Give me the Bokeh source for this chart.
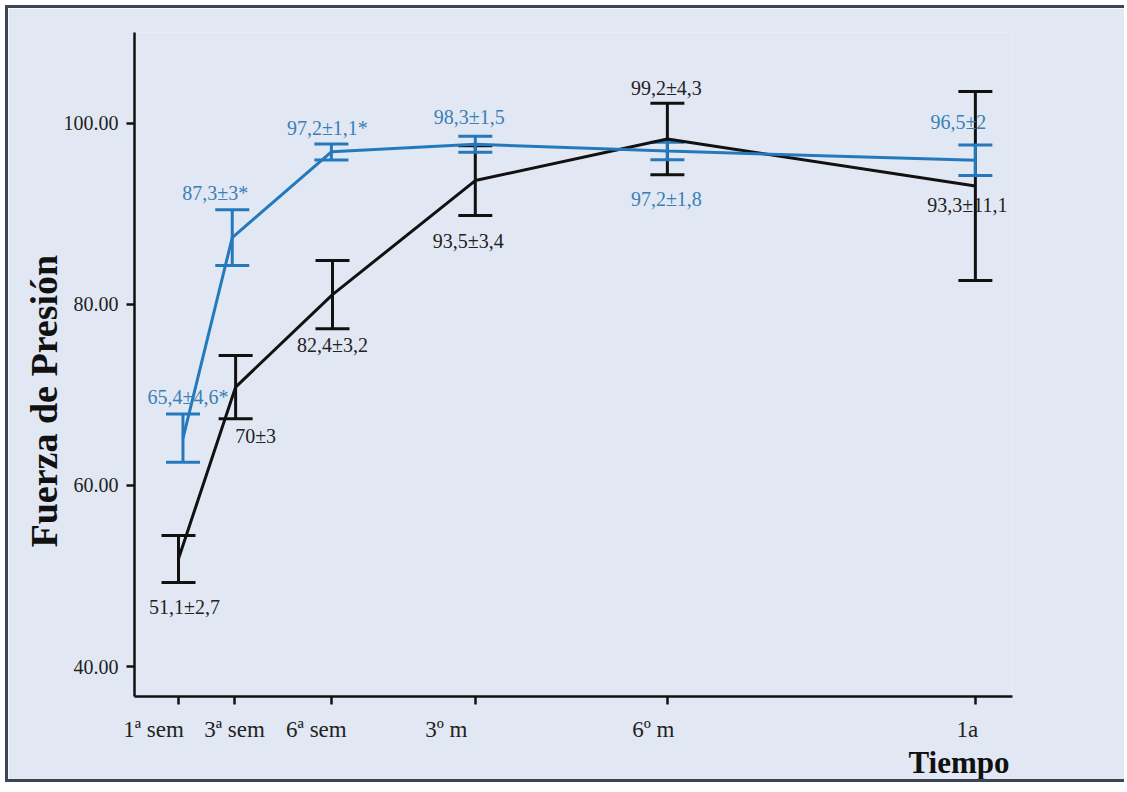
from bokeh.plotting import figure
from bokeh.models import (ColumnDataSource, Whisker, TeeHead, FixedTicker,
                          PrintfTickFormatter, Range1d, LinearAxis, Title)
from bokeh.core.properties import value
from bokeh.embed import file_html
from bokeh.resources import INLINE

# ---- data ----
tick_labels = ["1ª sem", "3ª sem", "6ª sem", "3º m", "6º m", "1a"]
tick_pos = [1.0, 2.0, 3.73, 6.30, 9.73, 15.23]

# black series (grupo 1)
black_x = [1.0, 2.02, 3.75, 6.30, 9.73, 15.23]
black_mean = [51.9, 70.86, 81.07, 93.67, 98.25, 93.06]
black_lower = [49.28, 67.36, 77.29, 89.81, 94.30, 82.63]
black_upper = [54.47, 74.35, 84.84, 97.50, 102.20, 103.50]
black_text = ["51,1±2,7", "70±3", "82,4±3,2", "93,5±3,4", "99,2±4,3", "93,3±11,1"]

# blue series (grupo 2)
blue_x = [1.08, 1.96, 3.73, 6.30, 9.73, 15.23]
blue_mean = [65.2, 87.37, 96.84, 97.68, 96.93, 95.90]
blue_lower = [62.56, 84.29, 95.95, 96.80, 95.96, 94.22]
blue_upper = [67.90, 90.44, 97.72, 98.56, 97.90, 97.60]
blue_text = ["65,4±4,6*", "87,3±3*", "97,2±1,1*", "98,3±1,5", "97,2±1,8", "96,5±2"]

# ---- styles / layout ----
BG = "#e2e8f3"
BLACK = "#111111"
BLUE = "#2479bd"
BLUE_TXT = "#3a7fb6"
SERIF = "Liberation Serif"
W, H = 1119, 777
ML, MR, MT, MB = 126, 115, 24, 89
X0, X1 = 0.2143, 15.893

black_dx = [6, 20, 0, -7, -1, -8]
black_dy = [48, 49, 50, 60, -51, 19]
blue_dx = [5, -17, -4, -6, -1, -17]
blue_dy = [-41, -45, -24, -27, 48, -38]
tick_label_dx = [-25, 0, -15, -29, -14, -8]


def safe_set(obj, **kw):
    for k, v in kw.items():
        if k in obj.properties():
            setattr(obj, k, v)


p = figure(width=W, height=H, output_backend="svg", toolbar_location=None,
           x_range=Range1d(X0, X1), y_range=Range1d(36.69, 110.02),
           min_border_left=ML, min_border_right=MR, min_border_top=MT,
           min_border_bottom=MB)
p.styles = {"border-left": "3px solid #3b4554", "border-top": "3px solid #3b4554",
            "border-bottom": "3px solid #3b4554", "border-right": "none",
            "margin-left": "5px", "margin-top": "5px"}
p.background_fill_color = BG
p.border_fill_color = BG
p.outline_line_color = None
p.grid.visible = False

xa = p.xaxis[0]
ya = p.yaxis[0]
for ax in (xa, ya):
    ax.axis_line_color = BLACK
    ax.axis_line_width = 2.5
    ax.major_tick_line_color = BLACK
    ax.major_tick_line_width = 2.5
    ax.major_tick_out = 8
    ax.major_tick_in = 0
    ax.minor_tick_line_color = None
    ax.major_label_text_font = SERIF
    ax.major_label_text_color = "#222222"

ya.ticker = FixedTicker(ticks=[40, 60, 80, 100])
ya.formatter = PrintfTickFormatter(format="%.2f")
ya.major_label_text_font_size = "20px"
ya.major_label_standoff = 8

xa.ticker = FixedTicker(ticks=tick_pos)
xa.major_label_overrides = {t: "" for t in tick_pos}
xa.major_label_text_font_size = "0px"
xa.major_label_standoff = 0

# second (label-only) x axis: labels shifted like in the original
upp = (X1 - X0) / (W - ML - MR)
label_pos = [round(t + d * upp, 4) for t, d in zip(tick_pos, tick_label_dx)]
xb = LinearAxis(ticker=FixedTicker(ticks=label_pos),
                major_label_overrides={t: l for t, l in zip(label_pos, tick_labels)},
                axis_line_color=None, major_tick_line_color=None,
                minor_tick_line_color=None, major_tick_out=0, major_tick_in=0,
                major_label_standoff=12, major_label_text_font=SERIF,
                major_label_text_font_size="23px", major_label_text_color="#222222")
p.add_layout(xb, "below")

src_b = ColumnDataSource(dict(x=black_x, y=black_mean, lo=black_lower, up=black_upper,
                              t=black_text, dx=black_dx, dy=black_dy))
src_u = ColumnDataSource(dict(x=blue_x, y=blue_mean, lo=blue_lower, up=blue_upper,
                              t=blue_text, dx=blue_dx, dy=blue_dy))

for src, col in ((src_b, BLACK), (src_u, BLUE)):
    p.line("x", "y", source=src, line_color=col, line_width=3)
    w = Whisker(source=src, base="x", lower="lo", upper="up", line_color=col, line_width=3,
                upper_head=TeeHead(size=34, line_color=col, line_width=3),
                lower_head=TeeHead(size=34, line_color=col, line_width=3))
    p.add_layout(w)

for src, col in ((src_b, "#222222"), (src_u, BLUE_TXT)):
    p.text("x", "y", text="t", source=src, x_offset="dx", y_offset="dy",
           text_font=value(SERIF), text_font_size="20px", text_color=col,
           text_align="center", text_baseline="middle")

ty = Title(text="Fuerza de Presión", align="left", text_font=SERIF,
           text_font_size="38px", text_font_style="bold", text_color=BLACK)
safe_set(ty, offset=149, standoff=-9)
p.add_layout(ty, "left")

tx = Title(text="Tiempo", align="right", text_font=SERIF,
           text_font_size="31px", text_font_style="bold", text_color=BLACK)
safe_set(tx, offset=3, standoff=-3)
p.add_layout(tx, "below")

open("out.html", "w").write(file_html(p, INLINE))
